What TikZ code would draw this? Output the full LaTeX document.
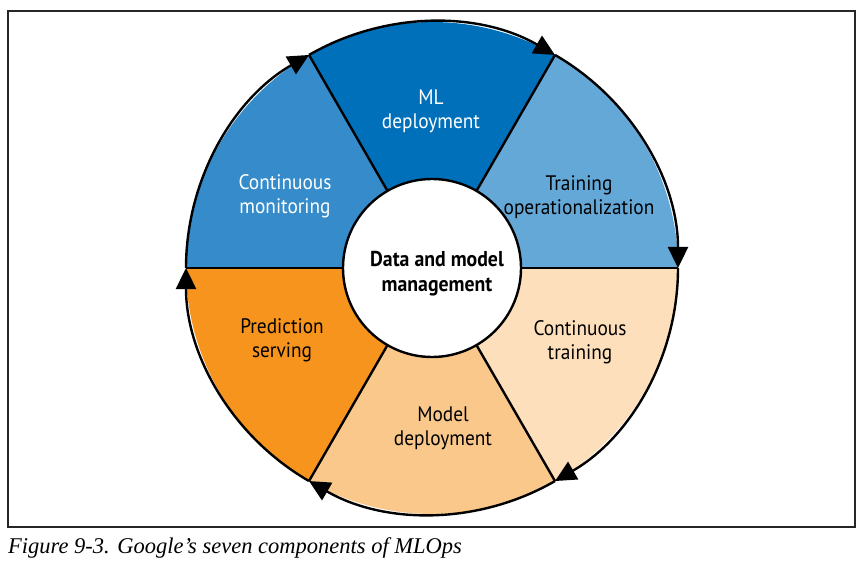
\documentclass[tikz,border=0pt]{standalone}
\usepackage{fontspec}
\setsansfont[FakeStretch=0.92]{PT Sans}
\newfontfamily\capfont{Liberation Serif}
\usepackage{tikz}
\usetikzlibrary{arrows.meta}

\definecolor{mldeploy}{RGB}{0,112,186}
\definecolor{trainop}{RGB}{100,168,216}
\definecolor{contmon}{RGB}{54,140,203}
\definecolor{predserve}{RGB}{247,148,30}
\definecolor{modeldeploy}{RGB}{249,200,138}
\definecolor{conttrain}{RGB}{253,223,188}

\begin{document}
\begin{tikzpicture}[x=1pt,y=1pt,
    seg/.style={draw=black, line width=2.4pt},
    lab/.style={font=\sffamily\fontsize{21}{24}\selectfont, align=center},
    ringarrow/.style={line width=2.4pt, -{Triangle[length=21pt,width=20pt]}}]
    \useasboundingbox (0,0) rectangle (867,-569);

    % Centre of the wheel
    \coordinate (C) at (432,-268);

    % Outer frame
    \draw[line width=1.4pt, black!85] (8,-11) rectangle (855,-527);

    % The six coloured slices
    \fill[mldeploy] (C) -- ++(60:246) arc[start angle=60, end angle=120, radius=246] -- cycle;
    \fill[trainop] (C) -- ++(0:246) arc[start angle=0, end angle=60, radius=246] -- cycle;
    \fill[conttrain] (C) -- ++(-60:246) arc[start angle=-60, end angle=0, radius=246] -- cycle;
    \fill[modeldeploy] (C) -- ++(-120:246) arc[start angle=-120, end angle=-60, radius=246] -- cycle;
    \fill[predserve] (C) -- ++(180:246) arc[start angle=180, end angle=240, radius=246] -- cycle;
    \fill[contmon] (C) -- ++(120:246) arc[start angle=120, end angle=180, radius=246] -- cycle;

    % Dividing lines
    \draw[seg] (C) -- ++(0:246);
    \draw[seg] (C) -- ++(60:246);
    \draw[seg] (C) -- ++(120:246);
    \draw[seg] (C) -- ++(180:246);
    \draw[seg] (C) -- ++(240:246);
    \draw[seg] (C) -- ++(300:246);

    % Outer ring, clockwise, with an arrowhead at each slice end
    \draw[ringarrow] (C) ++(120:246) arc[start angle=120, end angle=60, radius=246];
    \draw[ringarrow] (C) ++(60:246) arc[start angle=60, end angle=0, radius=246];
    \draw[ringarrow] (C) ++(0:246) arc[start angle=0, end angle=-60, radius=246];
    \draw[ringarrow] (C) ++(-60:246) arc[start angle=-60, end angle=-120, radius=246];
    \draw[ringarrow] (C) ++(-120:246) arc[start angle=-120, end angle=-180, radius=246];
    \draw[ringarrow] (C) ++(180:246) arc[start angle=180, end angle=120, radius=246];

    % Hub
    \draw[seg, fill=white] (C) circle[radius=89];
    \node[font=\sffamily\bfseries\fontsize{21.5}{25}\selectfont, align=center] (hub) at (437,-274) {Data and model\\management};

    % Slice labels
    \node[lab, text=white] (mld) at (431,-111) {ML\\deployment};
    \node[lab] (trop) at (579,-197) {Training\\operationalization};
    \node[lab] (ctr) at (580,-342) {Continuous\\training};
    \node[lab] (mdd) at (443,-428) {Model\\deployment};
    \node[lab] (prs) at (282,-340) {Prediction\\serving};
    \node[lab, text=white] (cmon) at (285,-196) {Continuous\\monitoring};

    % Caption
    \node[anchor=base west, inner sep=0pt, font=\capfont\itshape\fontsize{22.5}{26}\selectfont] (cap) at (8,-553) {Figure 9-3. Google’s seven components of MLOps};

\end{tikzpicture}
\end{document}
